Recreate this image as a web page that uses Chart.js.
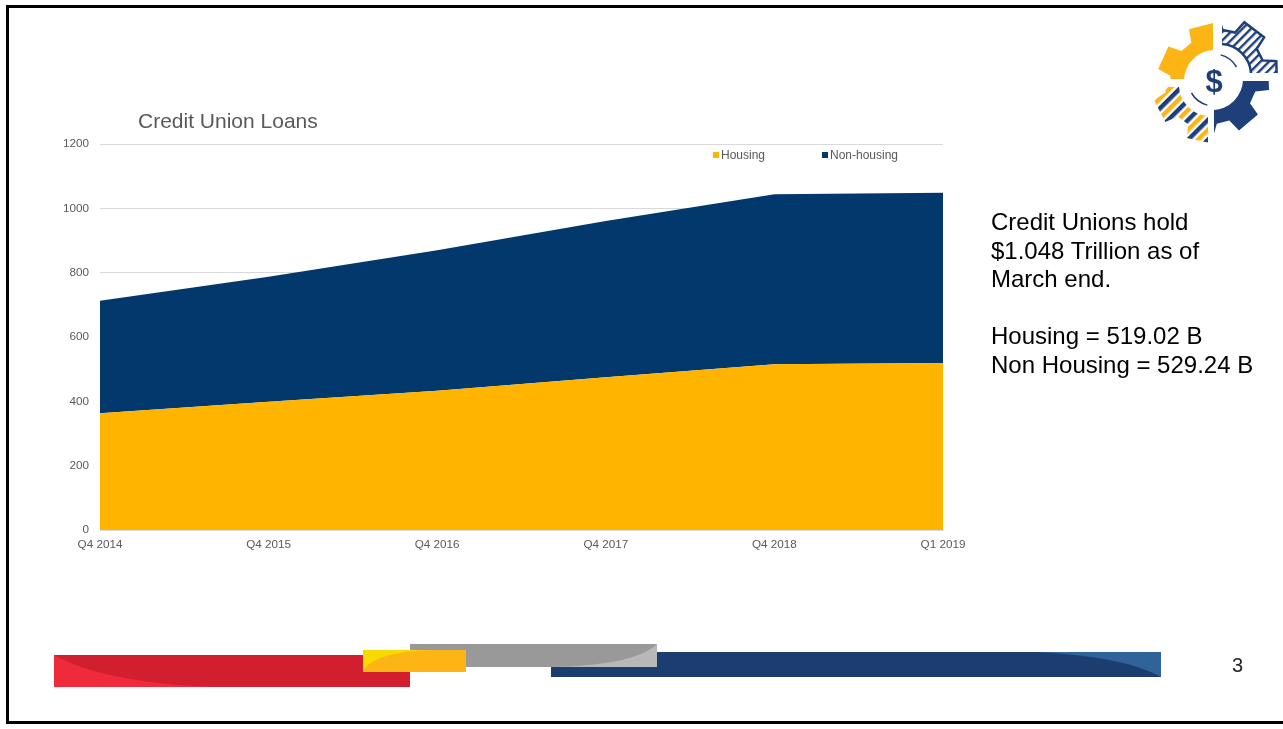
<!DOCTYPE html>
<html lang="en">
<head>
<meta charset="UTF-8">
<title>Credit Union Loans</title>
<script src="https://cdn.jsdelivr.net/npm/chart.js"></script>
<style>
    body {
        margin: 0;
        width: 1283px;
        height: 729px;
        overflow: hidden;
        background: #ffffff;
        font-family: "Liberation Sans", Arial, sans-serif;
        position: relative;
    }
    .frame {
        position: absolute;
        left: 6px;
        top: 5px;
        width: 1300px;
        height: 713px;
        border: 3px solid #000;
    }
    #loansChart { position: absolute; left: 0; top: 0; }
    #deco { position: absolute; left: 0; top: 0; }
    .chart-title {
        position: absolute;
        left: 138px;
        top: 110px;
        font-size: 21px;
        line-height: 21px;
        color: #595959;
    }
    #legend { position: absolute; top: 149px; left: 0; }
    .legend-item {
        position: absolute;
        display: flex;
        align-items: center;
        font-size: 12px;
        line-height: 12px;
        color: #595959;
        white-space: nowrap;
    }
    .legend-item span.box { width: 6px; height: 6px; margin-right: 2px; }
    .summary {
        position: absolute;
        left: 991px;
        top: 208px;
        font-size: 24px;
        line-height: 28.6px;
        color: #000;
    }
    .page-no {
        position: absolute;
        left: 1232px;
        top: 655px;
        font-size: 20px;
        line-height: 20px;
        color: #222;
    }
</style>
</head>
<body>
<div class="frame"></div>
<canvas id="loansChart" width="1283" height="729"></canvas>
<svg id="deco" width="1283" height="729" viewBox="0 0 1283 729">
    <defs>
        <pattern id="hatch" width="6" height="6" patternUnits="userSpaceOnUse" patternTransform="rotate(45)">
            <rect width="6" height="6" fill="#fff"/>
            <rect width="2.4" height="6" fill="#1f3f78"/>
        </pattern>
        <pattern id="stripes" width="14" height="14" patternUnits="userSpaceOnUse" patternTransform="rotate(45)">
            <rect width="14" height="14" fill="#fff"/>
            <rect x="0" width="4.5" height="14" fill="#fdb515"/>
            <rect x="7" width="4.5" height="14" fill="#1f3f78"/>
        </pattern>
        <clipPath id="qTL"><rect x="-70" y="-70" width="68" height="68"/></clipPath>
        <clipPath id="qTR"><rect x="2" y="-70" width="68" height="68"/></clipPath>
        <clipPath id="qBR"><rect x="2" y="2" width="68" height="68"/></clipPath>
        <clipPath id="qBL"><rect x="-70" y="2" width="68" height="68"/></clipPath>
    </defs>

    <!-- footer ribbons -->
    <rect x="54" y="655" width="356" height="32" fill="#d21f30"/>
    <path d="M54 655 C90 675 150 685 215 687 L54 687 Z" fill="#ee2a3b"/>
    <rect x="551" y="652" width="610" height="25" fill="#1b3d6f"/>
    <path d="M1036 652 C1100 655 1140 665 1161 677 L1161 652 Z" fill="#2f6399"/>
    <rect x="410" y="644" width="247" height="23" fill="#999999"/>
    <path d="M657 644 C640 660 600 666 550 667 L657 667 Z" fill="#b8b8b8"/>
    <rect x="363" y="650" width="103" height="22" fill="#fdb515"/>
    <path d="M363 672 C368 657 400 651 432 650 L363 650 Z" fill="#f7da00"/>

    <g id="logo"></g>
</svg>

<div class="chart-title">Credit Union Loans</div>
<div id="legend"></div>
<div class="summary">
    Credit Unions hold<br>
    $1.048 Trillion as of<br>
    March end.<br>
    <br>
    Housing = 519.02 B<br>
    Non Housing = 529.24 B
</div>
<div class="page-no">3</div>

<script>
    // loan balances, billions of dollars
    const quarters = ['Q4 2014', 'Q4 2015', 'Q4 2016', 'Q4 2017', 'Q4 2018', 'Q1 2019'];
    const housing = [363, 399, 433, 475, 515, 519.02];
    const nonHousing = [350, 388, 437, 486, 529, 529.24];
    const yMin = 0;
    const yMax = 1200;
    const yStep = 200;

    const GOLD = '#ffb500';
    const NAVY = '#02386b';
    const GREY_TEXT = '#595959';
    const GRID = '#d9d9d9';

    const tickFont = { family: '"Liberation Sans", Arial, sans-serif', size: 11.7 };

    const ctx = document.getElementById('loansChart').getContext('2d');
    const chart = new Chart(ctx, {
        type: 'line',
        data: {
            labels: quarters,
            datasets: [{
                label: 'Housing',
                data: housing,
                backgroundColor: GOLD,
                borderColor: GOLD,
                borderWidth: 0,
                fill: 'origin',
                pointRadius: 0,
                tension: 0
            }, {
                label: 'Non-housing',
                data: nonHousing,
                backgroundColor: NAVY,
                borderColor: NAVY,
                borderWidth: 0,
                fill: '-1',
                pointRadius: 0,
                tension: 0
            }]
        },
        options: {
            responsive: false,
            animation: false,
            layout: { padding: { left: 60, right: 340, top: 144, bottom: 169 } },
            plugins: {
                legend: { display: false },
                title: { display: false },
                tooltip: { enabled: false }
            },
            scales: {
                x: {
                    offset: false,
                    grid: { display: false, drawTicks: false },
                    border: { display: true, color: GRID },
                    ticks: { color: GREY_TEXT, font: tickFont, padding: 8, maxRotation: 0, autoSkip: false },
                    afterFit: s => { s.height = 30; }
                },
                y: {
                    stacked: true,
                    min: yMin,
                    max: yMax,
                    grid: { color: GRID, drawTicks: false },
                    border: { display: false },
                    ticks: {
                        stepSize: yStep,
                        color: GREY_TEXT,
                        font: tickFont,
                        padding: 11,
                        callback: v => String(v)
                    },
                    afterFit: s => { s.width = 40; }
                }
            }
        }
    });

    // legend built from the chart's datasets
    const legendX = [713, 822];
    const legend = document.getElementById('legend');
    chart.data.datasets.forEach((ds, i) => {
        const item = document.createElement('div');
        item.className = 'legend-item';
        item.style.left = legendX[i] + 'px';
        item.innerHTML = '<span class="box" style="background:' + ds.backgroundColor + '"></span>' + ds.label;
        legend.appendChild(item);
    });

    // gear emblem, top right: one gear split into four offset quarters
    function gearPath(ro, rr, rh, n, phase) {
        const step = Math.PI * 2 / n;
        let d = '';
        for (let i = 0; i < n; i++) {
            const a = i * step + phase;
            const pts = [[a - 0.34 * step, rr], [a - 0.24 * step, ro], [a + 0.24 * step, ro], [a + 0.34 * step, rr]];
            pts.forEach(([ang, r], j) => {
                d += (i === 0 && j === 0 ? 'M' : 'L') + (r * Math.cos(ang)).toFixed(1) + ' ' + (r * Math.sin(ang)).toFixed(1) + ' ';
            });
        }
        d += 'Z M' + rh + ' 0 A' + rh + ' ' + rh + ' 0 1 0 ' + (-rh) + ' 0 A' + rh + ' ' + rh + ' 0 1 0 ' + rh + ' 0 Z';
        return d;
    }
    const gear = gearPath(58, 45, 31, 7, -Math.PI / 2 - 0.25);
    const quads = [
        { clip: 'qTL', x: 1215, y: 81, fill: '#fdb515', stroke: 'none' },
        { clip: 'qTR', x: 1220, y: 75, fill: 'url(#hatch)', stroke: '#1f3f78' },
        { clip: 'qBR', x: 1212, y: 79, fill: '#1f3f78', stroke: 'none' },
        { clip: 'qBL', x: 1210, y: 85, fill: 'url(#stripes)', stroke: 'none' }
    ];
    let logo = '';
    quads.forEach(q => {
        logo += '<g transform="translate(' + q.x + ' ' + q.y + ')" clip-path="url(#' + q.clip + ')">' +
            '<path d="' + gear + '" fill="' + q.fill + '" fill-rule="evenodd" stroke="' + q.stroke + '" stroke-width="2.5"/></g>';
    });
    function arc(cx, cy, r, a0, a1) {
        const p = a => (cx + r * Math.cos(a * Math.PI / 180)).toFixed(1) + ' ' + (cy + r * Math.sin(a * Math.PI / 180)).toFixed(1);
        return 'M' + p(a0) + ' A' + r + ' ' + r + ' 0 0 1 ' + p(a1);
    }
    logo += '<path d="' + arc(1214, 80, 26, -75, -30) + ' ' + arc(1214, 80, 26, 105, 150) + '" fill="none" stroke="#1f3f78" stroke-width="1.5"/>';
    logo += '<text x="1214" y="81" text-anchor="middle" dominant-baseline="central" font-family="Liberation Sans, Arial" font-weight="bold" font-size="31" fill="#1f3f78">$</text>';
    document.getElementById('logo').innerHTML = logo;
</script>
</body>
</html>
